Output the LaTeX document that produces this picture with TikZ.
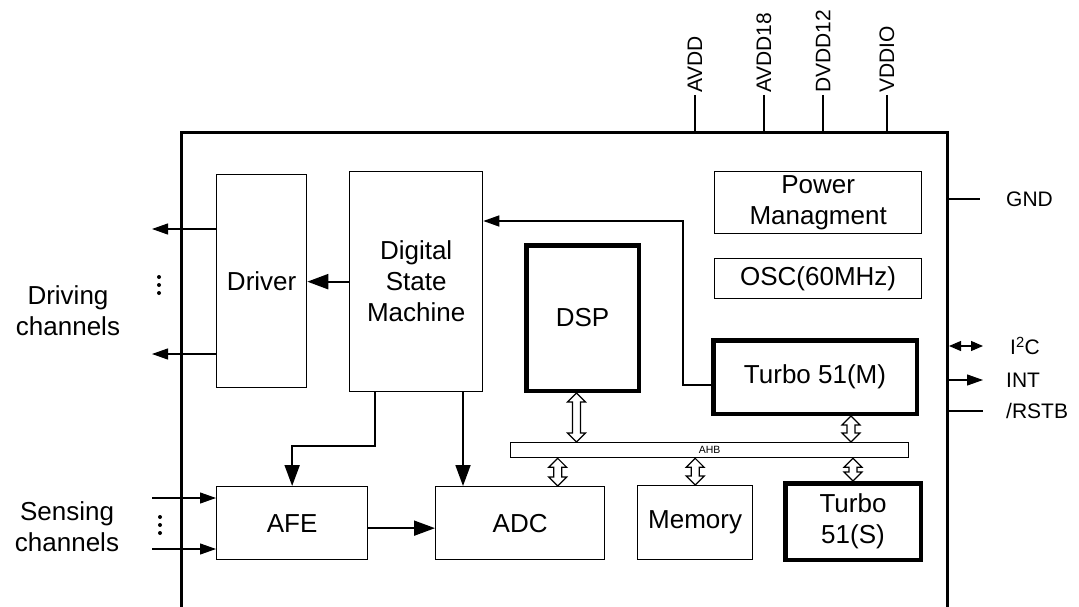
\documentclass[tikz,border=0pt]{standalone}
\usepackage{fontspec}
\setmainfont{Liberation Sans}
\usetikzlibrary{arrows.meta,calc}

% hollow double arrow between the bus and a block (#1 upper end, #2 lower end)
\newcommand{\busarrow}[2]{%
  \draw[busarr] let \p1=#1, \p2=#2 in
    (\x1,\y1) -- (\x1+9pt,\y1-9pt) -- (\x1+4pt,\y1-9pt) -- (\x1+4pt,\y2+9pt)
    -- (\x1+9pt,\y2+9pt) -- (\x1,\y2) -- (\x1-9pt,\y2+9pt) -- (\x1-4pt,\y2+9pt)
    -- (\x1-4pt,\y1-9pt) -- (\x1-9pt,\y1-9pt) -- cycle;}

\begin{document}
\begin{tikzpicture}[x=1pt, y=-1pt,
  font=\fontsize{26}{31}\selectfont,
  blk/.style={draw, line width=1.3pt, align=center, inner sep=0pt, anchor=north west},
  core/.style={blk, line width=4.5pt},
  pin/.style={font=\fontsize{21}{25}\selectfont, inner sep=2pt},
  arr/.style={-{Triangle[length=16pt,width=11pt]}, line width=1.1pt},
  bigarr/.style={-{Triangle[length=21pt,width=15pt]}, line width=2.2pt},
  busarr/.style={draw, fill=white, line width=1.2pt, line join=miter}
]
  \clip (0,0) rectangle (1079,607);
  % chip outline
  \node[draw, line width=3pt, inner sep=0pt, anchor=north west,
        minimum width=766pt, minimum height=520pt] (chip) at (180,131) {};

  % blocks
  \node[blk, minimum width=90pt,  minimum height=213pt] (driver) at (216,174) {Driver};
  \node[blk, minimum width=133pt, minimum height=220pt] (dsm)    at (349,171) {Digital\\State\\Machine};
  \node[core, minimum width=112.5pt, minimum height=145.5pt] (dsp) at (524,243) {DSP};
  \node[blk, minimum width=207pt, minimum height=62pt] (pwr) at (714,171) {Power\\Managment};
  \node[blk, minimum width=207pt, minimum height=40pt] (osc) at (714,258) {OSC(60MHz)};
  \node[core, minimum width=203.5pt, minimum height=73.5pt] (turbom) at (711,338) {Turbo 51(M)};
  \node[blk, minimum width=398pt, minimum height=15pt,
        font=\fontsize{10.5}{12}\selectfont] (ahb) at (510,442) {AHB};
  \node[blk, minimum width=151pt, minimum height=73pt] (afe) at (216,486) {AFE};
  \node[blk, minimum width=169pt, minimum height=73pt] (adc) at (435,486) {ADC};
  \node[blk, minimum width=115pt, minimum height=74pt] (mem) at (637,485) {Memory};
  \node[core, minimum width=135.5pt, minimum height=76.5pt] (turbos) at (783,481) {Turbo\\51(S)};

  % supply pins
  \node[pin, rotate=90, anchor=west] (avdd)   at (695,95) {AVDD};
  \node[pin, rotate=90, anchor=west] (avdd18) at (764,95) {AVDD18};
  \node[pin, rotate=90, anchor=west] (dvdd12) at (823,95) {DVDD12};
  \node[pin, rotate=90, anchor=west] (vddio)  at (887,95) {VDDIO};
  \draw[line width=1.2pt] (avdd.west) -- (avdd.west |- chip.north);
  \draw[line width=1.2pt] (avdd18.west) -- (avdd18.west |- chip.north);
  \draw[line width=1.2pt] (dvdd12.west) -- (dvdd12.west |- chip.north);
  \draw[line width=1.2pt] (vddio.west) -- (vddio.west |- chip.north);

  % right pins
  \node[pin, anchor=west] (gnd)  at (1004,199) {GND};
  \node[pin, anchor=west] (i2c)  at (1008,346) {I\textsuperscript{2}C};
  \node[pin, anchor=west] (int)  at (1004,380) {INT};
  \node[pin, anchor=west] (rstb) at (1004,411) {/RSTB};
  \draw[line width=1.1pt] (chip.east |- gnd) -- ([xshift=-24pt]gnd.west);
  \draw[{Triangle[length=12pt,width=10pt]}-{Triangle[length=12pt,width=10pt]}, line width=1.1pt]
    (chip.east |- i2c) -- ([xshift=-25pt]i2c.west);
  \draw[arr] (chip.east |- int) -- ([xshift=-21pt]int.west);
  \draw[line width=1.1pt] (chip.east |- rstb) -- ([xshift=-21pt]rstb.west);

  % driving channels
  \coordinate (drvout1) at (152,229);
  \coordinate (drvout2) at (152,354);
  \draw[arr] (drvout1 -| driver.west) -- (drvout1);
  \draw[arr] (drvout2 -| driver.west) -- (drvout2);
  \foreach \y in {277,285,293} \fill (159,\y) circle (2pt);
  \node[align=center] (drvlbl) at (68,311) {Driving\\channels};

  % sensing channels
  \coordinate (sens1) at (152,498);
  \coordinate (sens2) at (152,549);
  \draw[arr] (sens1) -- (sens1 -| afe.west);
  \draw[arr] (sens2) -- (sens2 -| afe.west);
  \foreach \y in {517,525,533} \fill (160,\y) circle (2pt);
  \node[align=center] (senslbl) at (67,527) {Sensing\\channels};

  % control paths
  \draw[bigarr] (dsm.west) -- (dsm.west -| driver.east);
  \coordinate (tmbend) at (683,221);
  \coordinate (tmout) at ([yshift=-8pt]turbom.west);
  \draw[arr, line width=1.5pt] (tmout) -| (tmbend) -- (tmbend -| dsm.east);
  \coordinate (afebend) at (375,446);
  \draw[bigarr, line width=2pt] (dsm.south -| afebend) -- (afebend) -| (afe.north);
  \coordinate (adcin) at ([xshift=28pt]adc.north west);
  \draw[bigarr, line width=1.8pt] (adcin |- dsm.south) -- (adcin);
  \coordinate (afeout) at ([yshift=-5pt]afe.east);
  \draw[bigarr, line width=1.8pt] (afeout) -- (afeout -| adc.west);

  % AHB bus
  \coordinate (dspbus) at ([xshift=-6pt]dsp.south);
  \coordinate (tmbus) at ([xshift=36pt]turbom.south);
  \coordinate (adcbus) at ([xshift=37.5pt]adc.north);
  \busarrow{(dspbus)}{(dspbus |- ahb.north)}
  \busarrow{(tmbus)}{(tmbus |- ahb.north)}
  \busarrow{(adcbus |- ahb.south)}{(adcbus)}
  \busarrow{(mem.north |- ahb.south)}{(mem.north)}
  \busarrow{(turbos.north |- ahb.south)}{(turbos.north)}
\end{tikzpicture}
\end{document}
